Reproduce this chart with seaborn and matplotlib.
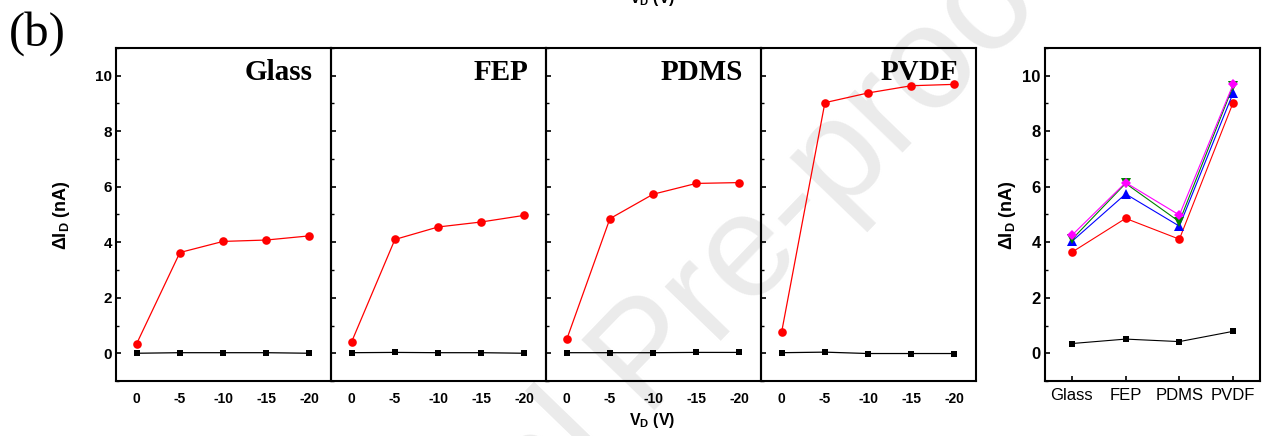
import matplotlib
matplotlib.use("Agg")
import matplotlib.pyplot as plt
from matplotlib.ticker import MultipleLocator
import seaborn as sns
import pandas as pd

# ---------------- data ----------------
vd = [0, -5, -10, -15, -20]
materials = ["Glass", "FEP", "PDMS", "PVDF"]

red_glass = [0.35, 3.63, 4.03, 4.08, 4.23]
red_fep = [0.42, 4.10, 4.55, 4.73, 4.97]
red_pdms = [0.50, 4.85, 5.73, 6.12, 6.15]
red_pvdf = [0.78, 9.03, 9.38, 9.64, 9.69]

blk_glass = [0.00, 0.02, 0.02, 0.02, 0.00]
blk_fep = [0.02, 0.03, 0.02, 0.02, 0.00]
blk_pdms = [0.02, 0.02, 0.02, 0.03, 0.03]
blk_pvdf = [0.02, 0.04, -0.01, -0.01, -0.01]

# right panel: one series per drain voltage
sum_0 = [0.35, 0.51, 0.42, 0.79]
sum_5 = [3.64, 4.86, 4.11, 9.03]
sum_10 = [4.03, 5.74, 4.58, 9.38]
sum_15 = [4.10, 6.12, 4.74, 9.63]
sum_20 = [4.25, 6.15, 4.98, 9.69]

# ---------------- style ----------------
sns.set_theme(style="white")
plt.rcParams["font.family"] = ["Liberation Sans", "DejaVu Sans"]
plt.rcParams["mathtext.fontset"] = "custom"
plt.rcParams["mathtext.rm"] = "Liberation Sans:bold"
plt.rcParams["mathtext.it"] = "Liberation Sans:bold"
plt.rcParams["mathtext.bf"] = "Liberation Sans:bold"
for k in ["text.color", "axes.labelcolor", "xtick.color", "ytick.color"]:
    plt.rcParams[k] = "black"

W, H = 1273, 436
fig = plt.figure(figsize=(W / 100, H / 100), dpi=100)

def fx(px):
    return px / W

def fy(py):
    return 1 - py / H

top_px, bot_px = 48, 381
panel_edges = [116, 331, 546, 761, 976]

# watermark behind everything
fig.text(fx(650), fy(360), "Journal Pre-proof", fontsize=106, color="#ebebeb",
         rotation=46, rotation_mode="anchor", ha="center", va="center",
         family="Liberation Sans", zorder=-5)

left_sets = [(red_glass, blk_glass), (red_fep, blk_fep),
             (red_pdms, blk_pdms), (red_pvdf, blk_pvdf)]

def style_axes(ax, ylabelsize):
    ax.set_facecolor("none")
    for s in ax.spines.values():
        s.set_visible(True)
        s.set_color("black")
        s.set_linewidth(1.5)
    ax.set_ylim(-1, 11)
    ax.yaxis.set_major_locator(MultipleLocator(2))
    ax.yaxis.set_minor_locator(MultipleLocator(1))
    ax.tick_params(axis="y", which="major", direction="in", length=3.5, width=1.2,
                   left=True, right=False, labelsize=ylabelsize, pad=3)
    ax.tick_params(axis="y", which="minor", direction="in", length=2, width=1.0,
                   left=True, right=False)
    ax.set_xlabel("")
    ax.set_ylabel("")

for i, (mat, (red, blk)) in enumerate(zip(materials, left_sets)):
    x0, x1 = panel_edges[i], panel_edges[i + 1]
    ax = fig.add_axes([fx(x0), fy(bot_px), fx(x1 - x0), (bot_px - top_px) / H])
    df = pd.DataFrame({"vd": vd + vd,
                       "val": blk + red,
                       "kind": ["off"] * 5 + ["on"] * 5})
    sns.lineplot(data=df[df.kind == "off"], x="vd", y="val", ax=ax, color="black",
                 marker="s", markersize=5, markeredgewidth=0, linewidth=0.9,
                 sort=False, legend=False)
    sns.lineplot(data=df[df.kind == "on"], x="vd", y="val", ax=ax, color="#ff0000",
                 marker="o", markersize=6.2, markeredgewidth=0, linewidth=0.9,
                 sort=False, legend=False)
    style_axes(ax, 11)
    ax.set_xlim(2.4, -22.5)
    ax.set_xticks(vd)
    ax.set_xticklabels([str(v) for v in vd], fontweight="bold", fontsize=10)
    ax.tick_params(axis="x", which="both", length=0, pad=8)
    if i == 0:
        for t in ax.get_yticklabels():
            t.set_fontweight("bold")
    else:
        ax.set_yticklabels([])
    ax.text(1 - 18 / (x1 - x0), (bot_px - 80) / (bot_px - top_px), mat,
            transform=ax.transAxes, ha="right", va="baseline", color="black",
            family="Liberation Serif", fontweight="bold", fontsize=21)

# right summary panel
axr = fig.add_axes([fx(1045), fy(bot_px), fx(1260 - 1045), (bot_px - top_px) / H])
series = [(sum_0, "black", "s", 5), (sum_5, "#ff0000", "o", 6.2),
          (sum_10, "#0000ff", "^", 6.5), (sum_15, "#008000", "v", 6.5),
          (sum_20, "#ff00ff", "D", 5.5)]
for vals, col, mk, ms in series:
    dfr = pd.DataFrame({"material": materials, "val": vals})
    sns.lineplot(data=dfr, x="material", y="val", ax=axr, color=col, marker=mk,
                 markersize=ms, markeredgewidth=0, linewidth=0.8, sort=False,
                 legend=False)
style_axes(axr, 12)
axr.set_xlim(-0.5, 3.5)
axr.tick_params(axis="x", which="major", direction="in", length=3.5, width=1.2,
                bottom=True, labelsize=12, pad=5)
for t in axr.get_yticklabels():
    t.set_fontweight("bold")

# labels
ylab = "ΔI$_{D}$ (nA)"
fig.text(fx(62), fy(215), ylab, rotation=90, ha="center", va="center",
         fontsize=13, fontweight="bold")
fig.text(fx(1008), fy(215), ylab, rotation=90, ha="center", va="center",
         fontsize=13, fontweight="bold")
fig.text(fx(652), fy(420), "V$_{D}$ (V)", ha="center", va="center",
         fontsize=11.5, fontweight="bold")
fig.text(fx(652), fy(3), "V$_{D}$ (V)", ha="center", va="baseline",
         fontsize=11.5, fontweight="bold")
fig.text(fx(9), fy(34), "(b)", ha="left", va="center",
         family="Liberation Serif", fontsize=35)

fig.savefig("out.png", dpi=100)
